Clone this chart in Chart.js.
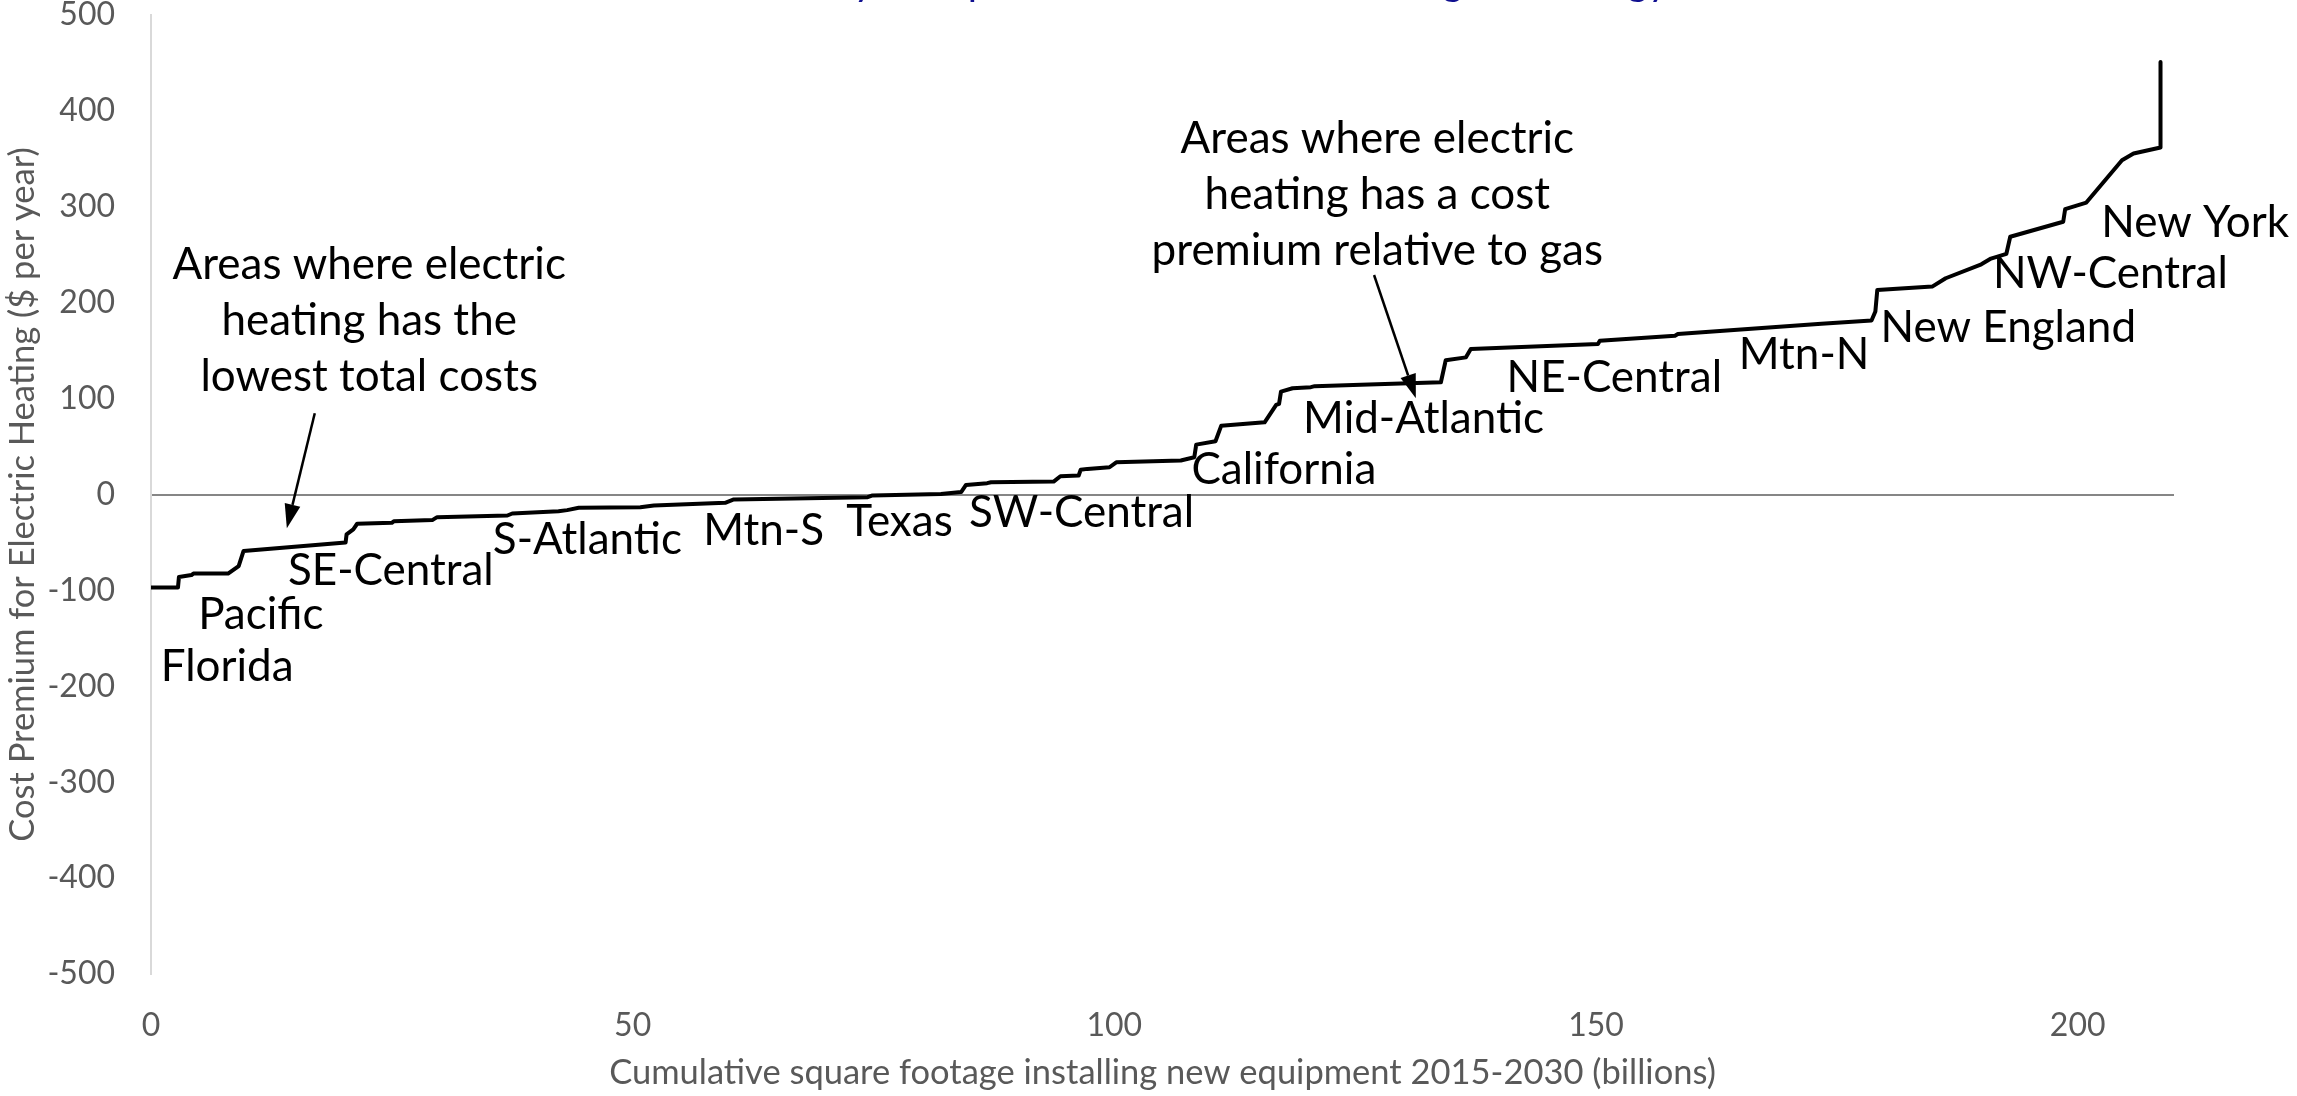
<!DOCTYPE html>
<html>
<head>
<meta charset="utf-8">
<script src="https://cdn.jsdelivr.net/npm/chart.js@4.4.1/dist/chart.umd.min.js"></script>
<style>
  html, body { margin: 0; padding: 0; background: #ffffff; overflow: hidden; }
  #wrap { position: relative; width: 2297px; height: 1096px; }
</style>
</head>
<body>
<div id="wrap"><canvas id="c" width="2297" height="1096"></canvas></div>
<script>
// Cumulative floor area (billion sq ft) vs. annual cost premium of electric heating ($/yr)
const footage = [0, 2.8, 2.9, 4.2, 4.4, 8.0, 9.1, 9.6, 20.2, 20.3, 21.0, 21.4, 25.0, 25.2, 29.2, 29.7,
  37.0, 37.5, 42.3, 43.2, 44.4, 50.8, 52.2, 59.6, 60.5, 71.2, 74.4, 74.9, 82.0, 84.1, 84.6, 86.8,
  87.2, 93.7, 94.4, 96.3, 96.5, 97.2, 99.5, 100.2, 106.9, 108.3, 108.5, 110.5, 111.1, 115.6, 116.8,
  117.1, 117.3, 118.5, 120.4, 120.8, 125.6, 133.9, 134.4, 136.5, 137.0, 150.2, 150.4, 158.2, 158.5,
  173.4, 178.6, 179.0, 179.2, 184.9, 186.3, 190.0, 191.0, 192.6, 193.0, 198.5, 198.7, 200.9, 204.6,
  205.8, 208.6, 208.6];
const premium = [-97, -97, -86, -84, -82.5, -82.5, -74.6, -59, -50, -41.6, -36.4, -30.5, -29.5, -28,
  -26.7, -23.6, -21.9, -19.8, -17.5, -16.3, -13.9, -13.2, -11.4, -8.7, -5.2, -3.5, -2.8, -1, 0.5, 2.6,
  10, 11.8, 12.8, 13.5, 19, 19.8, 25.7, 26.7, 28.4, 33.6, 35.4, 38.8, 52, 55.5, 71.8, 75.3, 93.4, 94.5,
  107.3, 110.8, 111.9, 113, 114.4, 117, 140, 143, 151.8, 157, 160.4, 165.6, 167.4, 178, 181.4, 190.8,
  213.3, 216.8, 225.5, 240, 246, 251, 268.8, 284.4, 297.5, 304.4, 348.6, 355.5, 361.8, 451];

const xTicks = [0, 50, 100, 150, 200];
const regionNames = ['Florida', 'Pacific', 'SE-Central', 'S-Atlantic', 'Mtn-S', 'Texas', 'SW-Central',
  'California', 'Mid-Atlantic', 'NE-Central', 'Mtn-N', 'New England', 'NW-Central', 'New York'];
const lowCostNote = ['Areas where electric', 'heating has the', 'lowest total costs'];
const premiumNote = ['Areas where electric', 'heating has a cost', 'premium relative to gas'];
const chartTitle = 'Electricity cost premium for electric heating technology';
const xTitle = 'Cumulative square footage installing new equipment 2015-2030 (billions)';
const yTitle = 'Cost Premium for Electric Heating ($ per year)';

// Label anchors, in axis units (x, y)
const regionAnchors = [[7.9, -180.1], [11.4, -125.9], [24.9, -79.9], [45.3, -47.6], [63.6, -38.2],
  [77.7, -28.4], [96.6, -19.5], [117.6, 25.3], [132.1, 78.5], [151.9, 121.3], [171.6, 145.8],
  [192.8, 173.4], [203.4, 229.7], [212.2, 282.9]];
const notes = [
  { lines: lowCostNote, at: [22.65, 239.1], arrowFrom: [17.0, 84.8], arrowTo: [14.1, -35.1] },
  { lines: premiumNote, at: [127.3, 370.4], arrowFrom: [126.96, 228.9], arrowTo: [131.3, 100.4] }
];

const FONT = 'Lato, "Open Sans", sans-serif';
const AXIS_GREY = '#595959';

const labelsPlugin = {
  id: 'regionLabels',
  afterDatasetsDraw(chart) {
    const { ctx, scales: { x, y } } = chart;
    ctx.save();
    ctx.fillStyle = '#000000';
    ctx.textAlign = 'center';
    ctx.textBaseline = 'middle';
    ctx.font = '44px ' + FONT;
    regionNames.forEach((name, i) => {
      const [vx, vy] = regionAnchors[i];
      ctx.fillText(name, x.getPixelForValue(vx), y.getPixelForValue(vy));
    });
    notes.forEach(n => {
      const cx = x.getPixelForValue(n.at[0]);
      const cy = y.getPixelForValue(n.at[1]);
      n.lines.forEach((t, k) => ctx.fillText(t, cx, cy + k * 56));
      const x0 = x.getPixelForValue(n.arrowFrom[0]), y0 = y.getPixelForValue(n.arrowFrom[1]);
      const x1 = x.getPixelForValue(n.arrowTo[0]), y1 = y.getPixelForValue(n.arrowTo[1]);
      const ang = Math.atan2(y1 - y0, x1 - x0);
      const headLen = 24, headHalf = 8;
      const bx = x1 - headLen * Math.cos(ang), by = y1 - headLen * Math.sin(ang);
      ctx.strokeStyle = '#000000';
      ctx.lineWidth = 2.5;
      ctx.beginPath();
      ctx.moveTo(x0, y0);
      ctx.lineTo(bx, by);
      ctx.stroke();
      ctx.beginPath();
      ctx.moveTo(x1, y1);
      ctx.lineTo(bx + headHalf * Math.sin(ang), by - headHalf * Math.cos(ang));
      ctx.lineTo(bx - headHalf * Math.sin(ang), by + headHalf * Math.cos(ang));
      ctx.closePath();
      ctx.fill();
    });
    ctx.restore();
  },
  afterDraw(chart) {
    // Chart heading sits above the canvas edge; only its descenders reach the canvas
    const { ctx } = chart;
    ctx.save();
    ctx.fillStyle = '#101090';
    ctx.textAlign = 'center';
    ctx.textBaseline = 'alphabetic';
    ctx.font = '40px ' + FONT;
    ctx.fillText(chartTitle, 1184, -5);
    ctx.restore();
  }
};

new Chart(document.getElementById('c'), {
  type: 'scatter',
  data: {
    datasets: [{
      data: footage.map((v, i) => ({ x: v, y: premium[i] })),
      showLine: true,
      borderColor: '#000000',
      borderWidth: 4,
      borderJoinStyle: 'round',
      borderCapStyle: 'round',
      pointRadius: 0,
      pointHoverRadius: 0,
      tension: 0
    }]
  },
  options: {
    responsive: false,
    animation: false,
    devicePixelRatio: 1,
    layout: { padding: { top: 15, right: 123, left: 0, bottom: 0 } },
    plugins: { legend: { display: false }, tooltip: { enabled: false }, title: { display: false } },
    scales: {
      x: {
        type: 'linear',
        min: 0,
        max: 210,
        afterBuildTicks: s => { s.ticks = xTicks.map(v => ({ value: v })); },
        afterFit: s => { s.height = 122; s.paddingLeft = 0; s.paddingRight = 0; },
        grid: { display: false, drawTicks: false },
        border: { display: false },
        ticks: { color: AXIS_GREY, font: { family: FONT, size: 32 }, padding: 32, maxRotation: 0 },
        title: { display: true, text: xTitle, color: AXIS_GREY, font: { family: FONT, size: 34.5 },
                 padding: { top: 4, bottom: 2 } }
      },
      y: {
        min: -500,
        max: 500,
        afterFit: s => { s.width = 151; s.paddingTop = 0; s.paddingBottom = 0; },
        ticks: { stepSize: 100, color: AXIS_GREY, font: { family: FONT, size: 32 }, padding: 36 },
        grid: {
          drawTicks: false,
          lineWidth: 2,
          color: c => (c.tick && c.tick.value === 0) ? '#868686' : 'rgba(0,0,0,0)'
        },
        border: { display: true, color: '#d9d9d9', width: 2 },
        title: { display: true, text: yTitle, color: AXIS_GREY, font: { family: FONT, size: 34.5 },
                 padding: { top: 2, bottom: 4 } }
      }
    }
  },
  plugins: [labelsPlugin]
});
</script>
</body>
</html>
